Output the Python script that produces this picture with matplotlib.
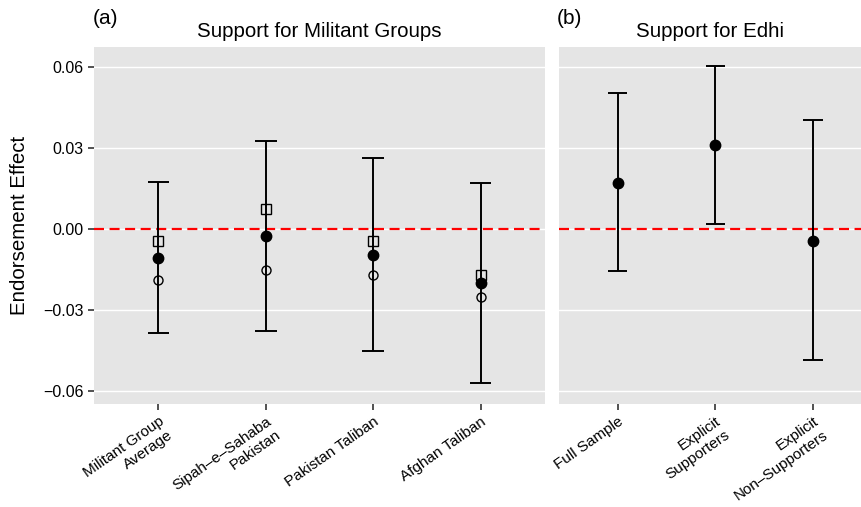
import numpy as np
import matplotlib
matplotlib.use("Agg")
import matplotlib.pyplot as plt

plt.rcParams['font.family'] = ['Liberation Sans', 'DejaVu Sans']

# panel (a): support for militant groups
grupos = ["Militant Group\nAverage", "Sipah\u2013e\u2013Sahaba\nPakistan", "Pakistan Taliban", "Afghan Taliban"]
media_a = [-0.0106, -0.0026, -0.0097, -0.0201]
sup_a = [0.0174, 0.0326, 0.0263, 0.0170]
inf_a = [-0.0385, -0.0378, -0.0452, -0.0570]
quadrado_a = [-0.0046, 0.0073, -0.0044, -0.0172]
aberto_a = [-0.0189, -0.0151, -0.0170, -0.0252]

# panel (b): support for Edhi
amostras = ["Full Sample", "Explicit\nSupporters", "Explicit\nNon\u2013Supporters"]
media_b = [0.0172, 0.0310, -0.0043]
sup_b = [0.0505, 0.0603, 0.0402]
inf_b = [-0.0157, 0.0018, -0.0485]

yticks = [-0.06, -0.03, 0.0, 0.03, 0.06]
ytick_labels = ["\u22120.06", "\u22120.03", "0.00", "0.03", "0.06"]

fig = plt.figure(figsize=(8.62, 5.07), dpi=100)
ax_a = fig.add_axes([94/862, 1 - 404/507, 451/862, 357/507])
ax_b = fig.add_axes([559/862, 1 - 404/507, 303/862, 357/507])

fundo = "#e5e5e5"


def painel(ax, rotulos, media, sup, inf, xmax):
    x = np.arange(1, len(rotulos) + 1)
    ax.set_facecolor(fundo)
    for s in ax.spines.values():
        s.set_visible(False)
    ax.set_ylim(-0.0648, 0.0674)
    ax.set_xlim(0.4, xmax)
    ax.set_yticks(yticks)
    ax.grid(axis="y", color="white", linewidth=1.0)
    ax.set_axisbelow(True)
    ax.axhline(0, color="red", linestyle=(0, (4.5, 2.5)), linewidth=1.6, zorder=2)
    ax.vlines(x, inf, sup, color="black", linewidth=1.4, zorder=3)
    ax.hlines(sup, x - 0.1, x + 0.1, color="black", linewidth=1.4, zorder=3)
    ax.hlines(inf, x - 0.1, x + 0.1, color="black", linewidth=1.4, zorder=3)
    ax.plot(x, media, "o", color="black", markersize=7.5, zorder=5)
    ax.set_xticks(x)
    ax.set_xticklabels(rotulos, rotation=35, ha="right", rotation_mode="anchor",
                       multialignment="right", fontsize=11)
    ax.tick_params(axis="both", length=4, width=1.2, color="#333333", labelcolor="black")
    return x


x_a = painel(ax_a, grupos, media_a, sup_a, inf_a, 4.6)
ax_a.plot(x_a, quadrado_a, "s", markerfacecolor="none", markeredgecolor="black",
          markersize=6.5, markeredgewidth=1.0, zorder=4)
ax_a.plot(x_a, aberto_a, "o", markerfacecolor="none", markeredgecolor="black",
          markersize=6.5, markeredgewidth=1.0, zorder=4)
ax_a.set_yticklabels(ytick_labels, fontsize=11.5)
ax_a.set_ylabel("Endorsement Effect", fontsize=14.8, labelpad=10)
ax_a.set_title("Support for Militant Groups", fontsize=14.8, pad=7)

painel(ax_b, amostras, media_b, sup_b, inf_b, 3.5)
ax_b.tick_params(axis="y", length=0, labelleft=False)
ax_b.set_title("Support for Edhi", fontsize=14.8, pad=7)

fig.text(93/862, 1 - 18/507, "(a)", fontsize=15, va="center", ha="left")
fig.text(557/862, 1 - 18/507, "(b)", fontsize=15, va="center", ha="left")

fig.savefig("out.png", dpi=100)
